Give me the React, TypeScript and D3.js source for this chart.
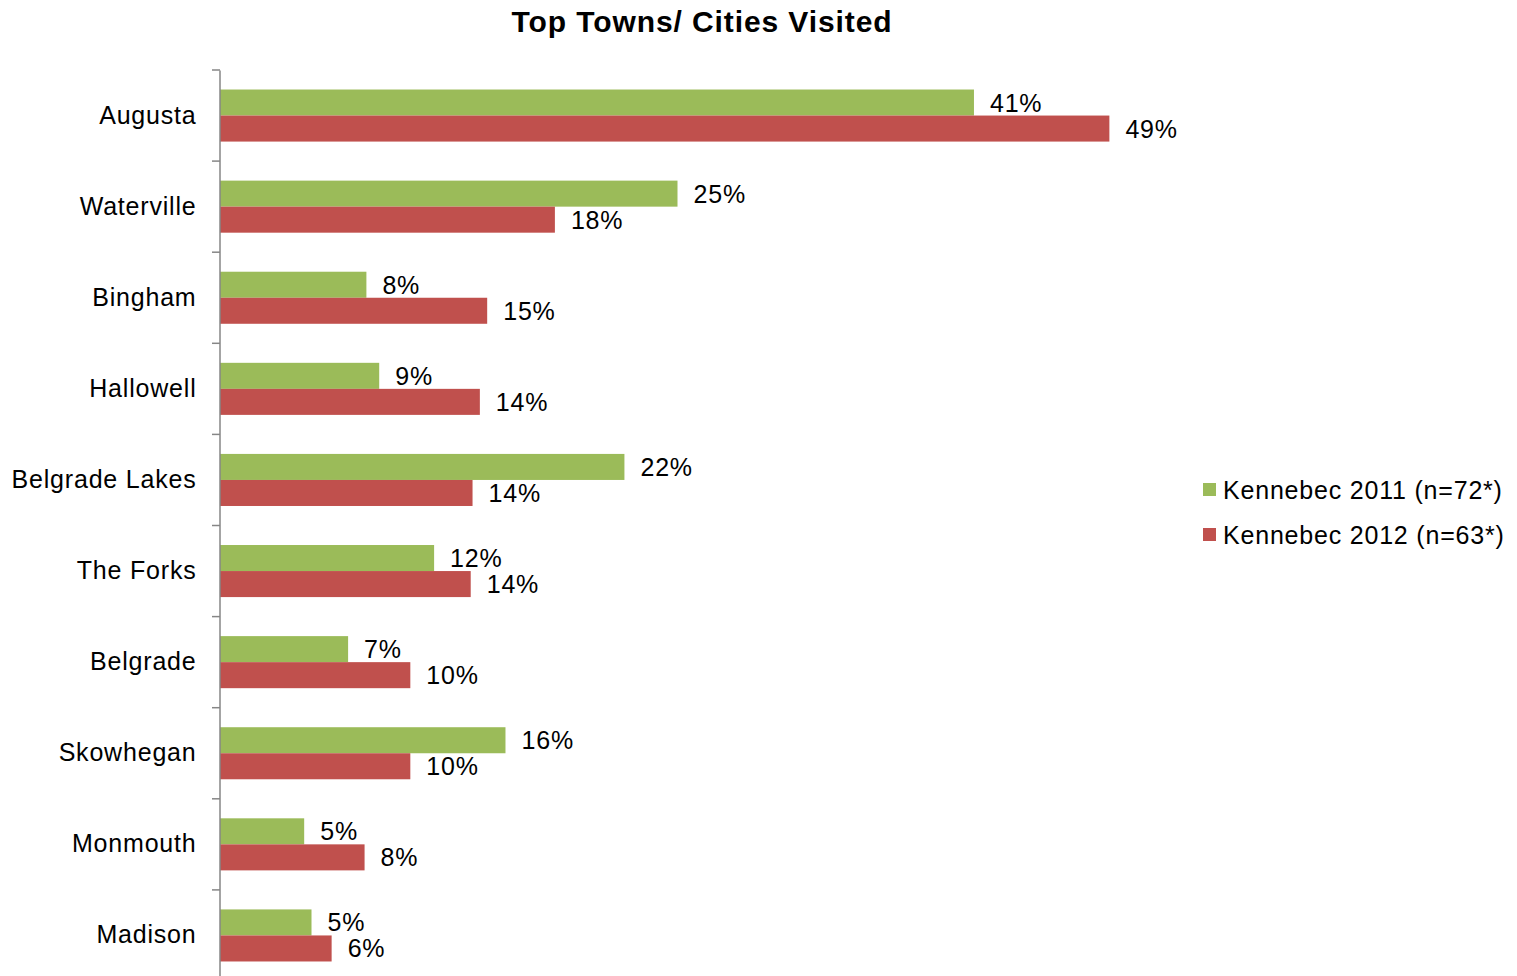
import * as d3 from "d3";
import { useEffect, useRef } from "react";

// categories, top to bottom
const towns = [
  "Augusta",
  "Waterville",
  "Bingham",
  "Hallowell",
  "Belgrade Lakes",
  "The Forks",
  "Belgrade",
  "Skowhegan",
  "Monmouth",
  "Madison",
];

// percent values
const kennebec2011 = [41.2, 25.0, 8.0, 8.7, 22.1, 11.7, 7.0, 15.6, 4.6, 5.0];
const kennebec2012 = [48.6, 18.3, 14.6, 14.2, 13.8, 13.7, 10.4, 10.4, 7.9, 6.1];

const seriesNames = ["Kennebec 2011 (n=72*)", "Kennebec 2012 (n=63*)"];
const seriesColors = ["#9BBB59", "#C0504D"];

const W = 1517;
const H = 976;
const FONT = "'Liberation Sans', Arial, sans-serif";

export default function App() {
  const ref = useRef<SVGSVGElement | null>(null);

  useEffect(() => {
    const svg = d3.select(ref.current);
    svg.selectAll("*").remove();

    const margin = { top: 70, left: 220 };
    const plotH = 911;

    const y = d3
      .scaleBand<string>()
      .domain(towns)
      .range([margin.top, margin.top + plotH]);
    const ySeries = d3
      .scaleBand<number>()
      .domain([0, 1])
      .range([0, y.bandwidth()])
      .paddingOuter(0.75);
    const x = d3.scaleLinear().domain([0, 50]).range([margin.left, margin.left + 915]);

    // title
    svg
      .append("text")
      .attr("x", 702)
      .attr("y", 32)
      .attr("text-anchor", "middle")
      .style("font-family", FONT)
      .style("font-weight", "bold")
      .style("font-size", "30px")
      .style("letter-spacing", "0.9px")
      .text("Top Towns/ Cities Visited");

    const rows = towns.map((t, i) => ({
      town: t,
      values: [kennebec2011[i], kennebec2012[i]],
    }));

    const g = svg
      .append("g")
      .selectAll("g")
      .data(rows)
      .join("g")
      .attr("transform", (d) => `translate(0,${y(d.town)})`);

    g.selectAll("rect")
      .data((d) => d.values)
      .join("rect")
      .attr("x", x(0))
      .attr("y", (d, i) => ySeries(i)!)
      .attr("width", (d) => x(d) - x(0))
      .attr("height", ySeries.bandwidth())
      .attr("fill", (d, i) => seriesColors[i]);

    g.selectAll("text.val")
      .data((d) => d.values)
      .join("text")
      .attr("class", "val")
      .attr("x", (d) => x(d) + 16)
      .attr("y", (d, i) => ySeries(i)! + ySeries.bandwidth() / 2)
      .attr("dy", "0.36em")
      .style("font-family", FONT)
      .style("font-size", "25px")
      .style("letter-spacing", "0.8px")
      .text((d) => `${Math.round(d)}%`);

    // y axis
    const axis = svg
      .append("g")
      .attr("transform", `translate(${margin.left - 0.5},0)`)
      .call(
        d3
          .axisLeft(y)
          .tickSize(0)
          .tickPadding(23)
      );
    axis.select(".domain").attr("stroke", "#868686").attr("stroke-width", 1.5);
    axis
      .selectAll("text")
      .style("font-family", FONT)
      .style("font-size", "25px")
      .style("letter-spacing", "0.8px")
      .attr("fill", "#000");

    // tick marks at band boundaries
    const bounds = towns.map((t) => y(t)!).concat([margin.top + plotH]);
    svg
      .append("g")
      .selectAll("line")
      .data(bounds)
      .join("line")
      .attr("x1", margin.left - 8)
      .attr("x2", margin.left)
      .attr("y1", (d) => d)
      .attr("y2", (d) => d)
      .attr("stroke", "#868686")
      .attr("stroke-width", 1.5);

    // legend
    const legend = svg
      .append("g")
      .selectAll("g")
      .data(seriesNames)
      .join("g")
      .attr("transform", (d, i) => `translate(1203,${483 + i * 45})`);
    legend
      .append("rect")
      .attr("width", 13)
      .attr("height", 13)
      .attr("fill", (d, i) => seriesColors[i]);
    legend
      .append("text")
      .attr("x", 20)
      .attr("y", 6.5)
      .attr("dy", "0.36em")
      .style("font-family", FONT)
      .style("font-size", "25px")
      .style("letter-spacing", "0.8px")
      .text((d) => d);
  }, []);

  return (
    <svg
      ref={ref}
      width={W}
      height={H}
      style={{ position: "absolute", left: 0, top: 0, background: "#fff" }}
    />
  );
}
